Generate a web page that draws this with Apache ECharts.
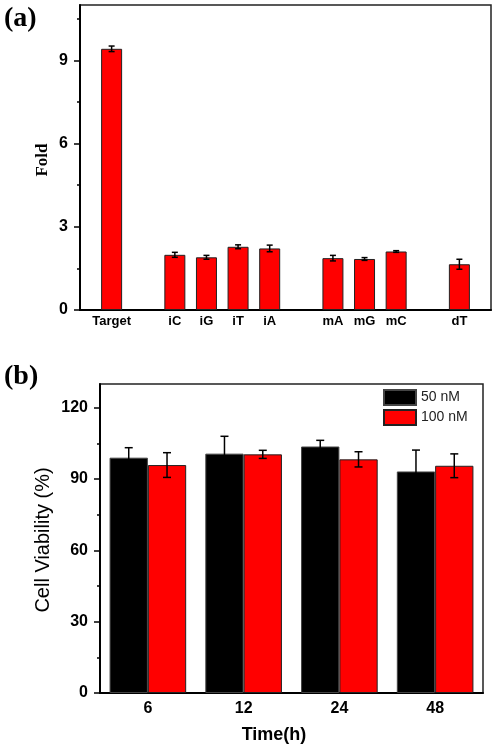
<!DOCTYPE html>
<html><head><meta charset="utf-8">
<script src="https://cdn.jsdelivr.net/npm/echarts@6/dist/echarts.min.js"></script>
<style>html,body{margin:0;padding:0;background:#fff}#c{width:496px;height:750px}</style>
</head><body><div id="c"></div>
<script>
// ---- Panel (a) data ----
const groupsA = [['Target'], ['iC', 'iG', 'iT', 'iA'], ['mA', 'mG', 'mC'], ['dT']];
const foldValues = [9.42, 1.99, 1.90, 2.28, 2.22, 1.87, 1.84, 2.11, 1.65];
const foldErrors = [0.10, 0.09, 0.07, 0.07, 0.12, 0.10, 0.05, 0.03, 0.18];
const foldTicks = [0, 3, 6, 9];
const foldMinorTicks = [1.5, 4.5, 7.5, 10.5];

// ---- Panel (b) data ----
const times = ['6', '12', '24', '48'];
const viab50 = [99.0, 100.7, 103.7, 93.2];
const err50 = [4.2, 7.3, 2.6, 9.0];
const viab100 = [95.9, 100.4, 98.3, 95.6];
const err100 = [5.2, 1.7, 3.2, 5.0];
const viabTicks = [0, 30, 60, 90, 120];
const viabMinorTicks = [15, 45, 75, 105];

// build category axis (with empty slots between groups)
const catA = [''];
const barA = ['-'];
const errA = [];
let k = 0;
groupsA.forEach(g => {
  g.forEach(name => {
    catA.push(name);
    barA.push(foldValues[k]);
    errA.push([catA.length - 1, foldValues[k] - foldErrors[k], foldValues[k] + foldErrors[k]]);
    k++;
  });
  catA.push('');
  barA.push('-');
});
const errB50 = viab50.map((v, i) => [i, v - err50[i], v + err50[i]]);
const errB100 = viab100.map((v, i) => [i, v - err100[i], v + err100[i]]);

function errRender(offsetFrac, cap) {
  return function (params, api) {
    const xi = api.value(0);
    const lo = api.coord([xi, api.value(1)]);
    const hi = api.coord([xi, api.value(2)]);
    const bw = api.size([1, 0])[0];
    const x = lo[0] + offsetFrac * bw;
    const style = { stroke: '#000', lineWidth: 1.5 };
    return {
      type: 'group', children: [
        { type: 'line', shape: { x1: x, y1: lo[1], x2: x, y2: hi[1] }, style },
        { type: 'line', shape: { x1: x - cap, y1: hi[1], x2: x + cap, y2: hi[1] }, style },
        { type: 'line', shape: { x1: x - cap, y1: lo[1], x2: x + cap, y2: lo[1] }, style }
      ]
    };
  };
}

const axisFont = { fontFamily: 'Arial, Liberation Sans, sans-serif', fontWeight: 'bold', color: '#000' };

function mainY(grid, min, max, interval, ticks) {
  return {
    type: 'value', gridIndex: grid, min, max, interval, position: 'left', offset: 0,
    axisLine: { show: true, lineStyle: { color: '#000', width: 2 } },
    axisTick: { show: true, customValues: ticks, length: 6, lineStyle: { color: '#000', width: 1.5 } },
    axisLabel: Object.assign({ customValues: ticks, fontSize: 16, margin: 12 }, axisFont),
    splitLine: { show: false }
  };
}
function minorY(grid, min, max, interval, ticks) {
  return {
    type: 'value', gridIndex: grid, min, max, interval, position: 'left', offset: 0,
    axisLine: { show: false },
    axisTick: { show: true, customValues: ticks, length: 3, lineStyle: { color: '#000', width: 1.5 } },
    axisLabel: { show: false },
    splitLine: { show: false }
  };
}

const chart = echarts.init(document.getElementById('c'), null, { renderer: 'canvas' });
chart.setOption({
  animation: false,
  backgroundColor: '#fff',
  grid: [
    { left: 80, top: 5, right: 5, bottom: 440, show: true, borderColor: '#222', borderWidth: 1.5, backgroundColor: 'transparent' },
    { left: 100, top: 384, right: 13, bottom: 57, show: true, borderColor: '#222', borderWidth: 1.5, backgroundColor: 'transparent' }
  ],
  legend: {
    data: ['50 nM', '100 nM'], orient: 'vertical', left: 383, top: 389, padding: 0,
    itemWidth: 32, itemHeight: 15, itemGap: 3, icon: 'rect',
    textStyle: { fontSize: 14, color: '#222', fontFamily: 'Arial, Liberation Sans, sans-serif', padding: [0, 0, 0, 0] }
  },
  xAxis: [
    {
      type: 'category', gridIndex: 0, data: catA, boundaryGap: false,
      axisLine: { lineStyle: { color: '#000', width: 2 } },
      axisTick: { show: false },
      axisLabel: Object.assign({ interval: 0, fontSize: 13, margin: 5 }, axisFont),
      splitLine: { show: false }
    },
    {
      type: 'category', gridIndex: 1, data: times,
      axisLine: { lineStyle: { color: '#000', width: 2 } },
      axisTick: { show: false },
      axisLabel: Object.assign({ interval: 0, fontSize: 16, margin: 8 }, axisFont),
      splitLine: { show: false }
    }
  ],
  yAxis: [
    mainY(0, 0, 11, 3, foldTicks),
    minorY(0, 0, 11, 3, foldMinorTicks),
    mainY(1, 0, 130, 30, viabTicks),
    minorY(1, 0, 130, 30, viabMinorTicks)
  ],
  series: [
    {
      type: 'bar', xAxisIndex: 0, yAxisIndex: 0, data: barA, barWidth: 21,
      itemStyle: { color: '#ff0000', borderColor: '#222', borderWidth: 1 }
    },
    {
      type: 'custom', xAxisIndex: 0, yAxisIndex: 0, data: errA, z: 5,
      encode: { x: 0, y: [1, 2] }, renderItem: errRender(0, 3)
    },
    {
      type: 'bar', name: '50 nM', xAxisIndex: 1, yAxisIndex: 2, data: viab50,
      barGap: '0%', barCategoryGap: '20%',
      itemStyle: { color: '#000', borderColor: '#444', borderWidth: 1 }
    },
    {
      type: 'bar', name: '100 nM', xAxisIndex: 1, yAxisIndex: 2, data: viab100,
      barGap: '0%', barCategoryGap: '20%',
      itemStyle: { color: '#ff0000', borderColor: '#222', borderWidth: 1 }
    },
    {
      type: 'custom', xAxisIndex: 1, yAxisIndex: 2, data: errB50, z: 5,
      encode: { x: 0, y: [1, 2] }, renderItem: errRender(-0.2, 4)
    },
    {
      type: 'custom', xAxisIndex: 1, yAxisIndex: 2, data: errB100, z: 5,
      encode: { x: 0, y: [1, 2] }, renderItem: errRender(0.2, 4)
    }
  ],
  graphic: [
    { type: 'text', left: 4, top: 5, style: { text: '(a)', font: 'bold 28px "Liberation Serif", "Times New Roman", serif', fill: '#000' } },
    { type: 'text', left: 4, top: 363, style: { text: '(b)', font: 'bold 28px "Liberation Serif", "Times New Roman", serif', fill: '#000' } },
    { type: 'text', x: 43, y: 160, rotation: Math.PI / 2, style: { text: 'Fold', font: 'bold 17px "Liberation Serif", "Times New Roman", serif', fill: '#000', align: 'center', verticalAlign: 'middle' } },
    { type: 'text', x: 43, y: 540, rotation: Math.PI / 2, style: { text: 'Cell Viability (%)', font: '20px Arial, "Liberation Sans", sans-serif', fill: '#000', align: 'center', verticalAlign: 'middle' } },
    { type: 'text', x: 274, y: 735, style: { text: 'Time(h)', font: 'bold 18px Arial, "Liberation Sans", sans-serif', fill: '#000', align: 'center', verticalAlign: 'middle' } }
  ]
});
</script>
</body></html>
